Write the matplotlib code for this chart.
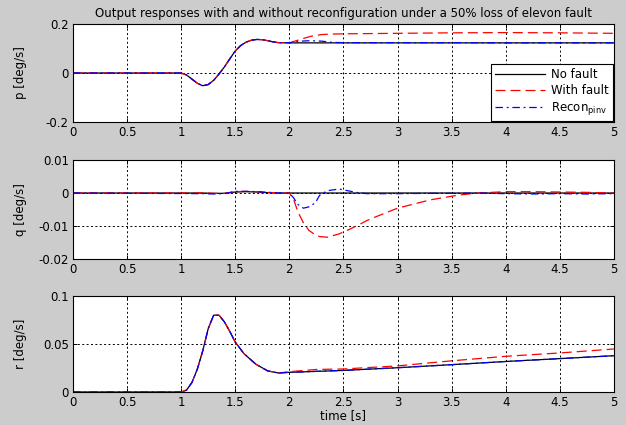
import matplotlib
matplotlib.use("Agg")
import matplotlib.pyplot as plt

plt.rcParams['font.family'] = ['DejaVu Sans']
plt.rcParams['font.size'] = 8.5
plt.rcParams['axes.unicode_minus'] = False

# p [deg/s]
t_p = [0, 1.0, 1.05, 1.1, 1.15, 1.2, 1.25, 1.3, 1.35, 1.4, 1.45, 1.5, 1.55, 1.6,
       1.65, 1.7, 1.75, 1.8, 1.85, 1.9, 2.0, 2.1, 2.2, 2.3, 2.4, 2.5, 3.0, 3.5,
       4.0, 4.5, 5.0]
p_nofault = [0, 0, -0.008, -0.025, -0.042, -0.052, -0.047, -0.03, -0.004, 0.025,
             0.058, 0.09, 0.112, 0.126, 0.134, 0.137, 0.136, 0.132, 0.127, 0.124,
             0.123, 0.123, 0.123, 0.123, 0.123, 0.123, 0.123, 0.123, 0.123, 0.123, 0.123]
p_fault = [0, 0, -0.008, -0.025, -0.042, -0.052, -0.047, -0.03, -0.004, 0.025,
           0.058, 0.09, 0.112, 0.126, 0.134, 0.137, 0.136, 0.132, 0.127, 0.124,
           0.123, 0.137, 0.15, 0.157, 0.159, 0.16, 0.162, 0.164, 0.165, 0.164, 0.162]
p_recon = [0, 0, -0.008, -0.025, -0.042, -0.052, -0.047, -0.03, -0.004, 0.025,
           0.058, 0.09, 0.112, 0.126, 0.134, 0.137, 0.136, 0.132, 0.127, 0.124,
           0.123, 0.13, 0.132, 0.13, 0.125, 0.124, 0.124, 0.124, 0.123, 0.123, 0.123]

# q [deg/s]
t_q = [0, 1.2, 1.3, 1.4, 1.5, 1.6, 1.7, 1.8, 1.9, 2.0, 2.04, 2.08, 2.13, 2.18,
       2.24, 2.28, 2.35, 2.46, 2.57, 2.65, 2.72, 2.8, 3.0, 3.3, 3.57, 3.75, 4.0,
       4.25, 4.5, 4.75, 5.0]
q_nofault = [0, 0, -0.0001, -0.0001, 0.0003, 0.0004, 0.0003, 0.0001, 0, 0, 0, 0,
             0, 0, 0, 0, 0, 0, 0, 0, 0, 0, 0, 0, 0, 0, 0, 0, 0, 0, 0]
q_fault = [0, 0, -0.0001, -0.0001, 0.0004, 0.0005, 0.0004, 0.0002, 0, 0, -0.002,
           -0.0058, -0.009, -0.0113, -0.0127, -0.0132, -0.0134, -0.0124, -0.0108,
           -0.0095, -0.0083, -0.0072, -0.0046, -0.0021, -0.0006, 0, 0.0004,
           0.0004, 0.0003, 0.0002, 0]
q_recon = [0, -0.0002, -0.0003, -0.0002, 0.0005, 0.0005, 0.0004, 0.0002, 0, 0,
           -0.0015, -0.0035, -0.0046, -0.0042, -0.003, -0.0007, 0.0007, 0.0012,
           0.0005, 0, -0.0002, -0.0002, -0.0002, -0.0001, -0.0001, 0, -0.0002,
           -0.0003, -0.0002, -0.0003, -0.0002]

# r [deg/s]
t_r = [0, 1.0, 1.05, 1.1, 1.15, 1.2, 1.25, 1.3, 1.35, 1.4, 1.45, 1.5, 1.58, 1.69,
       1.8, 1.9, 2.0, 2.25, 2.5, 3.0, 3.5, 4.0, 4.5, 5.0]
r_nofault = [0, 0, 0.002, 0.01, 0.024, 0.043, 0.066, 0.08, 0.08, 0.073, 0.063,
             0.052, 0.04, 0.029, 0.022, 0.0198, 0.0205, 0.0215, 0.0225, 0.0253,
             0.0285, 0.0318, 0.0348, 0.0378]
r_fault = [0, 0, 0.002, 0.01, 0.024, 0.043, 0.066, 0.08, 0.08, 0.073, 0.063,
           0.052, 0.04, 0.029, 0.022, 0.0198, 0.0212, 0.0235, 0.024, 0.0272,
           0.0325, 0.0372, 0.0407, 0.0448]
r_recon = r_nofault

ylabels = ['p [deg/s]', 'q [deg/s]', 'r [deg/s]']
ylims = [(-0.2, 0.2), (-0.02, 0.01), (0, 0.1)]
yticks = [[-0.2, 0, 0.2], [-0.02, -0.01, 0, 0.01], [0, 0.05, 0.1]]
yticklabels = [['-0.2', '0', '0.2'], ['-0.02', '-0.01', '0', '0.01'], ['0', '0.05', '0.1']]
xticks = [0, 0.5, 1, 1.5, 2, 2.5, 3, 3.5, 4, 4.5, 5]
xticklabels = ['0', '0.5', '1', '1.5', '2', '2.5', '3', '3.5', '4', '4.5', '5']

fig = plt.figure(figsize=(6.26, 4.25), dpi=100, facecolor='#cccccc')
boxes = [[0.1166, 0.7129, 0.864, 0.2306],
         [0.1166, 0.3906, 0.864, 0.2329],
         [0.1166, 0.0776, 0.864, 0.2259]]

series = [(t_p, p_nofault, p_fault, p_recon),
          (t_q, q_nofault, q_fault, q_recon),
          (t_r, r_nofault, r_fault, r_recon)]

for i, (t, nf, wf, rc) in enumerate(series):
    ax = fig.add_axes(boxes[i])
    ax.plot(t, nf, color='black', lw=0.9, label='No fault')
    ax.plot(t, wf, color='red', lw=0.9, ls=(0, (8, 4)), label='With fault')
    ax.plot(t, rc, color='blue', lw=0.9, ls=(0, (6, 3, 1.5, 3)), label=r'Recon$_{\mathregular{pinv}}$')
    ax.set_xlim(0, 5)
    ax.set_ylim(*ylims[i])
    ax.set_xticks(xticks)
    ax.set_xticklabels(xticklabels)
    ax.set_yticks(yticks[i])
    ax.set_yticklabels(yticklabels[i])
    ax.grid(True, color='black', ls=(0, (2, 2.5)), lw=0.7)
    ax.tick_params(direction='in', top=True, right=True, length=3, width=0.7, pad=3)
    for s in ax.spines.values():
        s.set_linewidth(0.8)
    ax.set_ylabel(ylabels[i])
    ax.yaxis.set_label_coords(-0.085, 0.5)
    if i == 0:
        ax.set_title('Output responses with and without reconfiguration under a 50% loss of elevon fault',
                     fontsize=8.5, pad=5)
        leg = ax.legend(loc='lower right', fancybox=False, framealpha=1, edgecolor='black',
                        handlelength=4.3, borderaxespad=0.05, borderpad=0.35, labelspacing=0.25,
                        handletextpad=0.5, fontsize=8.5)
        leg.get_frame().set_linewidth(0.8)
    if i == 2:
        ax.set_xlabel('time [s]', labelpad=0)

fig.savefig('out.png', dpi=100, facecolor=fig.get_facecolor())
